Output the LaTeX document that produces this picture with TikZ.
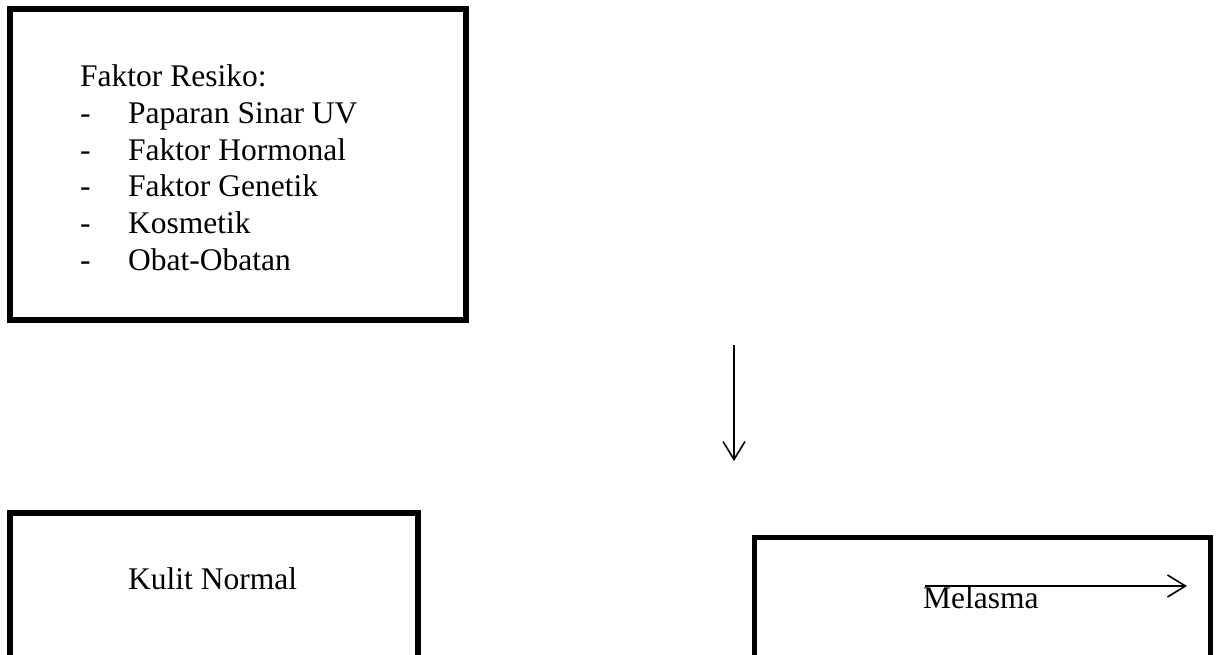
\documentclass[tikz,border=0pt]{standalone}
\usepackage{fontspec}
\setmainfont{Liberation Serif}
\usetikzlibrary{arrows.meta}
\tikzset{
  box/.style={draw, line width=5.5pt, rectangle, inner sep=0pt},
  txt/.style={anchor=base west, inner sep=0pt, font=\fontsize{31.5}{36.6}\selectfont},
  link/.style={line width=1.6pt, -{Straight Barb[length=18pt,width=22pt,line width=1.6pt]}}
}
\begin{document}
\begin{tikzpicture}[x=1pt, y=-1pt]
\useasboundingbox (0,0) rectangle (1218,655);
\clip (0,0) rectangle (1218,655);
% boxes
\node[box, minimum width=456pt, minimum height=311pt] (risiko) at (238,164.5) {};
\node[box, minimum width=408pt, minimum height=207pt] (normal) at (214,616.5) {};
\node[box, minimum width=456pt, minimum height=182pt] (melasma) at (982.5,628.5) {};
% texts
\node[txt] (judul) at (80,87) {Faktor Resiko:};
\foreach \i/\item in {1/Paparan Sinar UV, 2/Faktor Hormonal, 3/Faktor Genetik, 4/Kosmetik, 5/Obat-Obatan} {
  \node[txt] (dash\i) at (80,87+36.6*\i) {-};
  \node[txt] (item\i) at (128,87+36.6*\i) {\item};
}
\node[txt] (kulit) at (128,589) {Kulit Normal};
\node[txt] (mel) at (923,608) {Melasma};
% arrows
\coordinate (a1) at (734,345);
\coordinate (a2) at (734,461);
\draw[link] (a1) -- (a2);
\coordinate (m1) at (925,586);
\coordinate (m2) at (1187,586);
\draw[link] (m1) -- (m2);
\end{tikzpicture}
\end{document}
